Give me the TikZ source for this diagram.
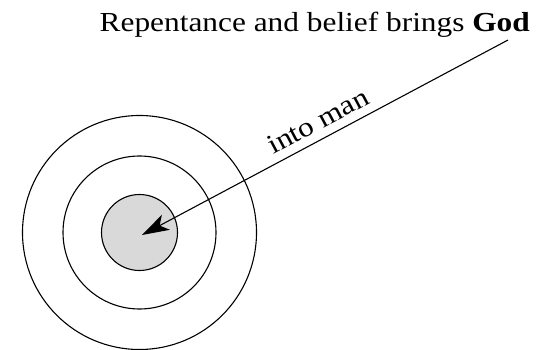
\documentclass[tikz,border=0pt]{standalone}
\usepackage{fontspec}
\setmainfont{Liberation Serif}[FakeStretch=1.14]
\usetikzlibrary{arrows.meta}
\definecolor{coregray}{HTML}{D9D9D9}
\tikzset{
  ring/.style={circle, draw, line width=1.1pt, inner sep=0pt},
  lbl/.style={font=\fontsize{27.5}{32}\selectfont, inner sep=0pt},
}
\begin{document}
\begin{tikzpicture}[x=1pt,y=-1pt]
\useasboundingbox (0,0) rectangle (536,350);
\coordinate (c) at (139.5,232.5);
\node[ring, minimum size=234pt] (outer) at (c) {};
\node[ring, minimum size=153pt] (middle) at (c) {};
\node[ring, minimum size=76pt, fill=coregray] (inner) at (c) {};
\coordinate (start) at (508,40);
\coordinate (tip) at (142,235);
\draw[line width=1.1pt, -{Stealth[length=27pt, width=17pt, inset=7pt]}] (start) -- (tip);
\node[lbl, anchor=base east] (title) at (530,32) {Repentance and belief brings \textbf{God}};
\node[lbl, rotate=28] (into) at (318,121) {into man};
\end{tikzpicture}
\end{document}
